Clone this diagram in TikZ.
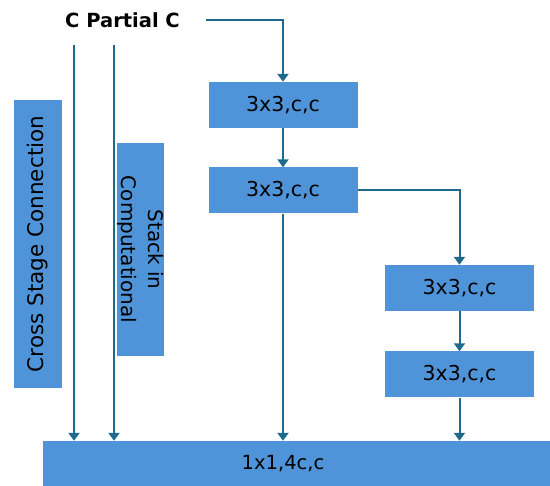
\documentclass[tikz,border=0pt]{standalone}
\usepackage{fontspec}
\setmainfont{DejaVu Sans}
\usetikzlibrary{arrows.meta}
\definecolor{boxblue}{HTML}{4F94D8}
\definecolor{flow}{HTML}{1D6A8C}
\begin{document}
\begin{tikzpicture}[x=1pt,y=-1pt,
  block/.style={fill=boxblue,draw=none,inner sep=0pt,font=\fontsize{20.5}{24}\selectfont},
  conv/.style={block,minimum width=149pt,minimum height=46pt},
  link/.style={draw=flow,line width=2pt,-{Triangle[width=11pt,length=8pt]}}]
\useasboundingbox (0,0) rectangle (550,486);

% heading
\node[font=\bfseries\fontsize{19.5}{22}\selectfont] (title) at (122.5,20) {C Partial C};
\coordinate (t0) at (206,20);
\coordinate (s1) at (74,45);
\coordinate (s2) at (114,45);

% convolution blocks
\node[conv] (b1) at (283,105) {3x3,c,c};
\node[conv] (b2) at (283,190.5) {3x3,c,c};
\node[conv] (b3) at (459.5,288) {3x3,c,c};
\node[conv] (b4) at (459.5,374.5) {3x3,c,c};
\node[block,minimum width=507pt,minimum height=45pt] (out) at (296.5,463.5) {};
\node[font=\fontsize{19.5}{24}\selectfont] (outlabel) at (283,463.5) {1x1,4c,c};

% direct paths into the 1x1 block
\draw[link] (s1) -- (s1 |- out.north);
\draw[link] (s2) -- (s2 |- out.north);

% side labels
\node[block,minimum width=48pt,minimum height=288pt] (csc) at (38,244) {};
\node[rotate=90,font=\fontsize{21.5}{24}\selectfont] at (csc) {Cross Stage Connection};
\node[block,minimum width=47pt,minimum height=213pt] (sic) at (140.5,249.5) {};
\node[rotate=-90,align=center,font=\fontsize{20}{27}\selectfont] at (sic) {Stack in\\Computational};

% main flow
\draw[link] (t0) -| (b1.north);
\draw[link] (b1.south) -- (b2.north);
\draw[link] (b2.east) -| (b3.north);
\draw[link] (b3.south) -- (b4.north);
\draw[link] (b2.south) -- (b2.south |- out.north);
\draw[link] (b4.south) -- (b4.south |- out.north);
\end{tikzpicture}
\end{document}
